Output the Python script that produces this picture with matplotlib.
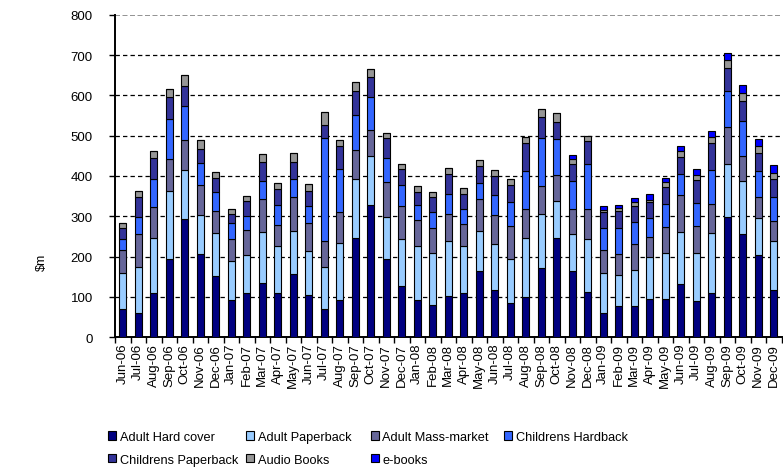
import numpy as np
import matplotlib
matplotlib.use("Agg")
import matplotlib.pyplot as plt

plt.rcParams['font.family'] = ['Liberation Sans', 'DejaVu Sans']

months = ['Jun-06', 'Jul-06', 'Aug-06', 'Sep-06', 'Oct-06', 'Nov-06', 'Dec-06',
          'Jan-07', 'Feb-07', 'Mar-07', 'Apr-07', 'May-07', 'Jun-07', 'Jul-07',
          'Aug-07', 'Sep-07', 'Oct-07', 'Nov-07', 'Dec-07', 'Jan-08', 'Feb-08',
          'Mar-08', 'Apr-08', 'May-08', 'Jun-08', 'Jul-08', 'Aug-08', 'Sep-08',
          'Oct-08', 'Nov-08', 'Dec-08', 'Jan-09', 'Feb-09', 'Mar-09', 'Apr-09',
          'May-09', 'Jun-09', 'Jul-09', 'Aug-09', 'Sep-09', 'Oct-09', 'Nov-09',
          'Dec-09']

# $m per month for each category
adult_hardcover = [70, 60, 110, 193, 294, 207, 153, 93, 110, 135, 110, 156, 106, 70,
                   92, 246, 329, 193, 128, 92, 81, 103, 110, 164, 118, 84, 99, 171,
                   246, 164, 113, 60, 78, 78, 95, 96, 131, 89, 110, 299, 256, 203, 118]
adult_paperback = [89, 114, 136, 170, 120, 96, 106, 95, 95, 127, 117, 107, 107, 105,
                   142, 146, 121, 106, 115, 134, 127, 135, 117, 99, 114, 111, 147, 134,
                   93, 92, 131, 99, 77, 89, 103, 113, 131, 120, 148, 131, 131, 92, 120]
adult_massmarket = [57, 82, 78, 80, 75, 74, 55, 55, 62, 80, 51, 86, 71, 63,
                    76, 72, 64, 87, 82, 66, 62, 68, 54, 79, 71, 80, 71, 69,
                    64, 61, 73, 58, 51, 64, 50, 64, 92, 67, 72, 91, 62, 54, 50]
childrens_hardback = [27, 42, 68, 99, 85, 54, 47, 41, 35, 46, 50, 43, 41, 255,
                      108, 88, 82, 59, 53, 36, 40, 50, 36, 40, 50, 61, 96, 119,
                      88, 71, 113, 53, 64, 54, 47, 57, 50, 58, 86, 90, 87, 64, 60]
childrens_paperback = [28, 51, 53, 54, 49, 36, 35, 22, 36, 47, 39, 43, 38, 34,
                       56, 58, 50, 48, 40, 32, 38, 50, 39, 42, 47, 41, 69, 53,
                       44, 41, 58, 40, 44, 41, 40, 43, 44, 56, 66, 56, 49, 44, 45]
audio_books = [12, 14, 17, 19, 27, 23, 15, 13, 12, 20, 16, 23, 16, 32,
               16, 22, 19, 14, 11, 14, 12, 14, 15, 15, 14, 15, 15, 19,
               20, 14, 12, 6, 6, 9, 6, 11, 13, 13, 14, 21, 22, 18, 14]
e_books = [0, 0, 0, 0, 0, 0, 0, 0, 0, 0, 0, 0, 0, 0,
           0, 0, 0, 0, 0, 0, 0, 0, 0, 0, 0, 0, 0, 0,
           0, 8, 0, 9, 8, 10, 14, 11, 14, 15, 15, 17, 19, 16, 20]

series = [
    ('Adult Hard cover', adult_hardcover, '#000080'),
    ('Adult Paperback', adult_paperback, '#99ccff'),
    ('Adult Mass-market', adult_massmarket, '#666699'),
    ('Childrens Hardback', childrens_hardback, '#3366ff'),
    ('Childrens Paperback', childrens_paperback, '#333399'),
    ('Audio Books', audio_books, '#969696'),
    ('e-books', e_books, '#0000ff'),
]

W, H = 783, 477
fig = plt.figure(figsize=(W / 100, H / 100), dpi=100)
ax = fig.add_axes([115 / W, 1 - 338.3 / H, (781.5 - 115) / W, (338.3 - 15.7) / H])

x = np.arange(len(months))
bottom = np.zeros(len(months))
handles = []
for name, vals, col in series:
    vals = np.array(vals, dtype=float)
    b = ax.bar(x, vals, 0.47, bottom=bottom, color=col, edgecolor='black',
               linewidth=0.8, label=name, zorder=3)
    handles.append(b)
    bottom += vals

ax.set_xlim(-0.5, len(months) - 0.5)
ax.set_ylim(0, 800)
ax.set_yticks(np.arange(0, 801, 100))
for v in range(100, 800, 100):
    ax.axhline(v, color='black', lw=0.9, ls=(0, (3.5, 2.5)), zorder=1)
ax.axhline(800, color='#808080', lw=1.2, ls=(0, (3, 1.5)), zorder=1)

ax.set_xticks(x)
ax.set_xticklabels(months, rotation=90, fontsize=9.5)
ax.set_xticks(np.arange(-0.5, len(months)), minor=True)
ax.tick_params(axis='x', which='major', length=0, pad=4)
ax.tick_params(axis='x', which='minor', length=4, width=1, direction='out')
ax.tick_params(axis='y', length=4, width=1, labelsize=9.5, pad=12)

for s in ['top', 'right']:
    ax.spines[s].set_visible(False)
ax.spines['left'].set_linewidth(1.4)
ax.spines['bottom'].set_linewidth(1.4)

fig.text(42 / W, 1 - 262 / H, '$m', rotation=90, ha='center', va='center', fontsize=9)

# legend laid out in four even columns below the plot
legend_cols = [[0, 4], [1, 5], [2, 6], [3]]
col_x = [108, 246, 371, 504]
for idx, lx in zip(legend_cols, col_x):
    fig.legend(handles=[handles[i] for i in idx], loc='upper left',
               bbox_to_anchor=(lx / W, 1 - 432 / H), frameon=False, fontsize=9.2,
               handlelength=0.6, handleheight=0.6, handletextpad=0.3,
               labelspacing=0.85, borderaxespad=0, borderpad=0)

fig.savefig('out.png', dpi=100)
